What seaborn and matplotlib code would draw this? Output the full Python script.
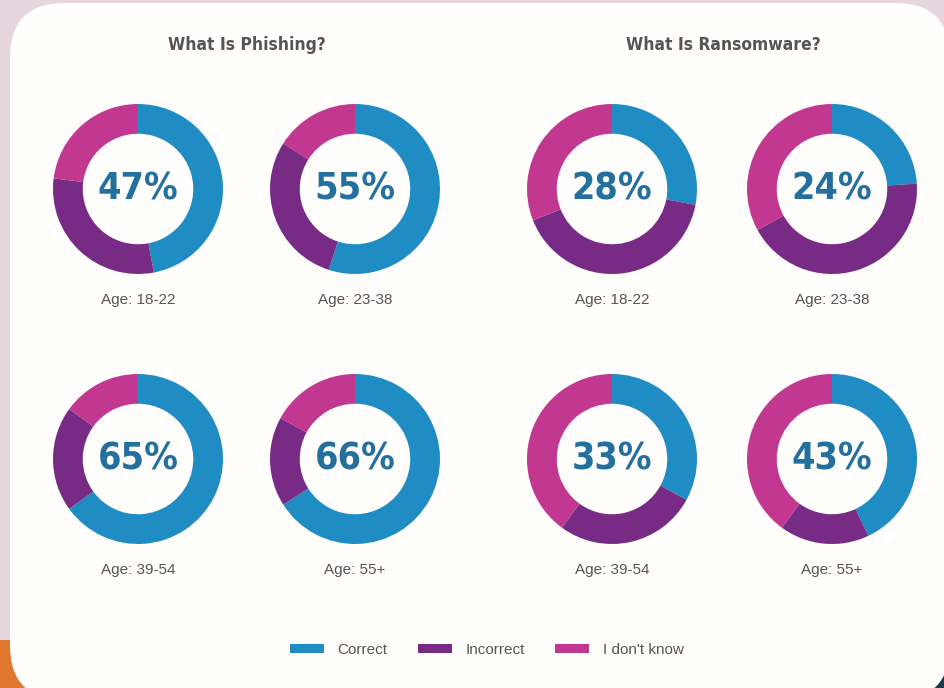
import numpy as np
import pandas as pd
import seaborn as sns
import matplotlib.pyplot as plt
from matplotlib.patches import FancyBboxPatch, Patch, Rectangle

# survey answers, share of respondents in percent
ages = ['18-22', '23-38', '39-54', '55+']
answers = ['Correct', 'Incorrect', "I don't know"]
phishing_correct = [47, 55, 65, 66]
phishing_incorrect = [30, 29, 20, 17]
phishing_dontknow = [23, 16, 15, 17]
ransom_correct = [28, 24, 33, 43]
ransom_incorrect = [41, 43, 27, 17]
ransom_dontknow = [31, 33, 40, 40]

colors = ['#1f8cc4', '#772b85', '#c2378f']

rows = []
for topic, c, i, d in [('Phishing', phishing_correct, phishing_incorrect, phishing_dontknow),
                       ('Ransomware', ransom_correct, ransom_incorrect, ransom_dontknow)]:
    for k, age in enumerate(ages):
        rows.append({'topic': topic, 'age': age, 'Correct': c[k],
                     'Incorrect': i[k], "I don't know": d[k]})
df = pd.DataFrame(rows)

sns.set_theme(style='white')
plt.rcParams['font.family'] = ['Liberation Sans', 'DejaVu Sans']
narrow = ['Liberation Sans Narrow', 'DejaVu Sans']

W, H = 945, 688
fig = plt.figure(figsize=(9.45, 6.88), dpi=100)
fig.patch.set_facecolor('#e6d7de')

# background decoration: orange and navy corners, white card
fig.patches.append(Rectangle((0, 0), 60 / W, 48 / H, transform=fig.transFigure,
                             facecolor='#e0772e', edgecolor='none', zorder=-3))
fig.patches.append(Rectangle((880 / W, 0), 65 / W, 70 / H, transform=fig.transFigure,
                             facecolor='#1b3a4b', edgecolor='none', zorder=-3))
fig.patches.append(FancyBboxPatch((10 / W, -12 / H), 940 / W, 697 / H,
                                  boxstyle='round,pad=0,rounding_size=0.058',
                                  mutation_aspect=W / H,
                                  transform=fig.transFigure, facecolor='#fffefd',
                                  edgecolor='none', zorder=-2))

centers_x = {('Phishing', 0): 138, ('Phishing', 1): 355,
             ('Ransomware', 0): 612, ('Ransomware', 1): 832}
centers_y = [189, 459]
R = 85

for idx, row in df.iterrows():
    k = ages.index(row['age'])
    cx = centers_x[(row['topic'], k % 2)]
    cy = centers_y[k // 2]
    ax = fig.add_axes([(cx - R) / W, 1 - (cy + R) / H, 2 * R / W, 2 * R / H])
    ax.set_zorder(2)
    ax.patch.set_alpha(0)
    ax.pie([row[a] for a in answers], colors=colors, startangle=90,
           counterclock=False, radius=1,
           wedgeprops=dict(width=0.35, edgecolor='none'))
    ax.set_xlim(-1, 1)
    ax.set_ylim(-1, 1)
    ax.set_aspect('equal')
    ax.axis('off')
    ax.text(0.0, 0.0, f"{row['Correct']}%", ha='center', va='center',
            fontsize=27, fontweight='bold', color='#23709f',
            fontstretch='condensed', family=narrow)
    fig.text(cx / W, 1 - (cy + 111) / H, f"Age: {row['age']}", ha='center',
             va='center', fontsize=11, color='#555555')

fig.text(247 / W, 1 - 45 / H, 'What Is Phishing?', ha='center', va='center',
         fontsize=12.5, fontweight='bold', color='#555555', fontstretch='condensed',
         family=narrow)
fig.text(723 / W, 1 - 45 / H, 'What Is Ransomware?', ha='center', va='center',
         fontsize=12.5, fontweight='bold', color='#555555', fontstretch='condensed',
         family=narrow)

handles = [Patch(facecolor=c, edgecolor='none', label=a) for c, a in zip(colors, answers)]
leg = fig.legend(handles=handles, loc='center', bbox_to_anchor=(487 / W, 1 - 650 / H),
                 ncol=3, frameon=False, fontsize=11, handlelength=2.2,
                 handleheight=0.5, columnspacing=2.0, handletextpad=0.9)
for t in leg.get_texts():
    t.set_color('#555555')

fig.savefig('out.png', dpi=100, facecolor=fig.get_facecolor())
